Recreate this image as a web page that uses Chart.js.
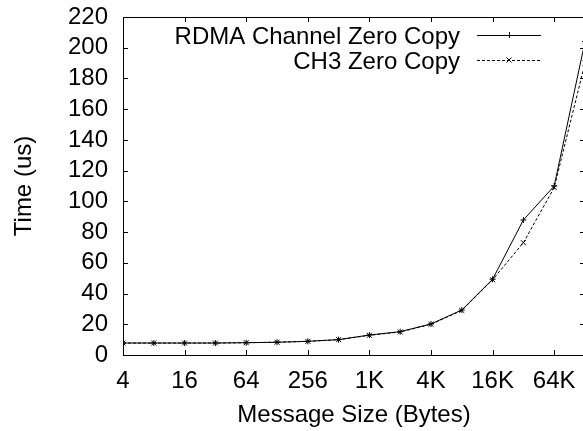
<!DOCTYPE html>
<html>
<head>
<meta charset="utf-8">
<script src="https://cdn.jsdelivr.net/npm/chart.js@4/dist/chart.umd.min.js"></script>
<style>
  html, body { margin: 0; padding: 0; background: #fff; overflow: hidden; }
  #wrap { width: 590px; height: 431px; }
</style>
</head>
<body>
<div id="wrap"><canvas id="chart" width="590" height="431"></canvas></div>
<script>
// message sizes in bytes
const sizes = [4, 8, 16, 32, 64, 128, 256, 512, 1024, 2048, 4096, 8192, 16384, 32768, 65536, 131072];
const rdmaZeroCopy = [7.8, 7.8, 7.8, 7.8, 8.0, 8.3, 8.9, 10.0, 13.0, 15.2, 20.2, 29.3, 49.3, 87.9, 110, 204];
const ch3ZeroCopy  = [7.8, 7.8, 7.8, 7.8, 8.0, 8.3, 8.9, 10.0, 12.8, 15.0, 20.0, 29.0, 49.0, 73.1, 109, 190];
const xTickValues = [4, 16, 64, 256, 1024, 4096, 16384, 65536];
const xTickLabels = ['4', '16', '64', '256', '1K', '4K', '16K', '64K'];

const FONT = "'Liberation Sans', Arial, Helvetica, sans-serif";
Chart.defaults.font.family = FONT;
Chart.defaults.font.size = 24;
Chart.defaults.color = '#000';

// gnuplot style frame, inward ticks, legend
const frame = {
  id: 'frame',
  afterDraw(chart) {
    const { ctx, chartArea: a, scales: { x, y } } = chart;
    ctx.save();
    ctx.strokeStyle = '#000';
    ctx.lineWidth = 1;
    ctx.setLineDash([]);
    ctx.strokeRect(a.left + 0.5, a.top + 0.5, a.right - a.left, a.bottom - a.top);
    ctx.beginPath();
    y.ticks.forEach(t => {
      const py = Math.round(y.getPixelForValue(t.value)) + 0.5;
      ctx.moveTo(a.left, py); ctx.lineTo(a.left + 5, py);
      ctx.moveTo(a.right, py); ctx.lineTo(a.right - 5, py);
    });
    xTickValues.forEach(v => {
      const px = Math.round(x.getPixelForValue(v)) + 0.5;
      ctx.moveTo(px, a.bottom); ctx.lineTo(px, a.bottom - 5);
      ctx.moveTo(px, a.top); ctx.lineTo(px, a.top + 5);
    });
    ctx.stroke();

    // legend
    ctx.font = '24px ' + FONT;
    ctx.fillStyle = '#000';
    ctx.textAlign = 'right';
    ctx.textBaseline = 'alphabetic';
    chart.data.datasets.forEach((ds, i) => {
      const ry = 35 + 25 * i;
      ctx.fillText(ds.label, 460, ry + 8.5);
      ctx.beginPath();
      ctx.setLineDash(ds.borderDash || []);
      ctx.moveTo(477, ry + 0.5); ctx.lineTo(541, ry + 0.5);
      ctx.stroke();
      ctx.setLineDash([]);
      ctx.beginPath();
      const mx = 509, r = ds.pointRadius;
      if (ds.pointStyle === 'cross') {
        ctx.moveTo(mx - r, ry + 0.5); ctx.lineTo(mx + r, ry + 0.5);
        ctx.moveTo(mx + 0.5, ry - r); ctx.lineTo(mx + 0.5, ry + r);
      } else {
        const d = r * 0.7071;
        ctx.moveTo(mx - d, ry - d); ctx.lineTo(mx + d, ry + d);
        ctx.moveTo(mx - d, ry + d); ctx.lineTo(mx + d, ry - d);
      }
      ctx.stroke();
    });
    ctx.restore();
  }
};

new Chart(document.getElementById('chart'), {
  type: 'line',
  data: {
    datasets: [
      {
        label: 'RDMA Channel Zero Copy',
        data: sizes.map((s, i) => ({ x: s, y: rdmaZeroCopy[i] })),
        borderColor: '#000', borderWidth: 1, tension: 0,
        pointStyle: 'cross', pointRadius: 3, pointBorderColor: '#000', pointBorderWidth: 1
      },
      {
        label: 'CH3 Zero Copy',
        data: sizes.map((s, i) => ({ x: s, y: ch3ZeroCopy[i] })),
        borderColor: '#000', borderWidth: 1, borderDash: [3, 2], tension: 0,
        pointStyle: 'crossRot', pointRadius: 3.5, pointBorderColor: '#000', pointBorderWidth: 1
      }
    ]
  },
  options: {
    responsive: false,
    devicePixelRatio: 1,
    animation: false,
    layout: { padding: { top: 17, right: 3, left: 0, bottom: 0 } },
    plugins: { legend: { display: false }, tooltip: { enabled: false } },
    scales: {
      x: {
        type: 'logarithmic',
        min: 4, max: 131072,
        grid: { display: false, drawTicks: false },
        border: { display: false },
        afterBuildTicks: s => { s.ticks = xTickValues.map(v => ({ value: v })); },
        afterFit: s => { s.height = 76; s.paddingLeft = 0; s.paddingRight = 0; },
        ticks: {
          padding: 12, maxRotation: 0, autoSkip: false,
          callback: (v, i) => xTickLabels[i]
        },
        title: { display: true, text: 'Message Size (Bytes)', padding: { top: 0, bottom: 1 } }
      },
      y: {
        min: 0, max: 220,
        grid: { display: false, drawTicks: false },
        border: { display: false },
        afterFit: s => { s.width = 123; s.paddingTop = 0; s.paddingBottom = 0; },
        ticks: { stepSize: 20, padding: 15, autoSkip: false },
        title: { display: true, text: 'Time (us)', padding: { top: 10, bottom: 0 } }
      }
    }
  },
  plugins: [frame]
});
</script>
</body>
</html>
